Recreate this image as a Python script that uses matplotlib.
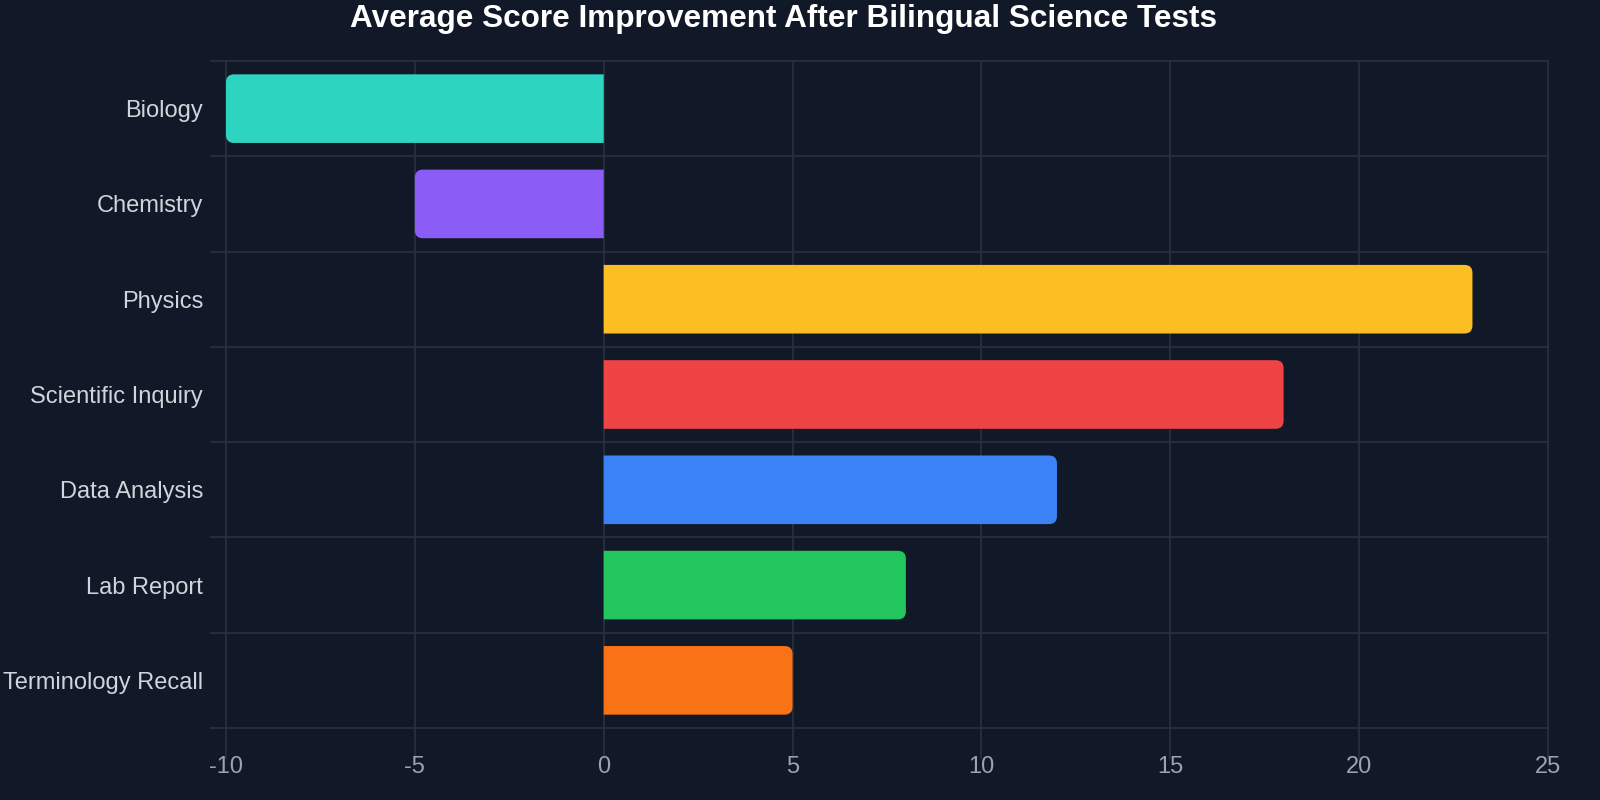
import matplotlib.pyplot as plt
from matplotlib.patches import PathPatch
from matplotlib.path import Path

plt.rcParams['font.family'] = ['Liberation Sans', 'DejaVu Sans']

# data
categories = ["Biology", "Chemistry", "Physics", "Scientific Inquiry",
              "Data Analysis", "Lab Report", "Terminology Recall"]
improvement = [-10, -5, 23, 18, 12, 8, 5]
bar_colors = ["#2dd4bf", "#8b5cf6", "#fbbf24", "#ef4444",
              "#3b82f6", "#22c55e", "#f97316"]
x_ticks = [-10, -5, 0, 5, 10, 15, 20, 25]

bg = "#111827"
grid_col = "#283040"

fig = plt.figure(figsize=(16, 8), dpi=100, facecolor=bg)
ax = fig.add_axes([226 / 1600, 72 / 800, 1322 / 1600, 667 / 800])
ax.set_facecolor(bg)

xmin, xmax = -10, 25
ax.set_xlim(xmin, xmax)
ax.set_ylim(len(categories) - 0.5, -0.5)

# pixel -> data sizes, used for the rounded bar ends
ax_w_px = 1322
ax_h_px = 667
xpp = (xmax - xmin) / ax_w_px
ypp = len(categories) / ax_h_px
r_px = 8
bar_h = 0.72


def bar_path(v, yc, h):
    # bar from 0 to v, only the outer end rounded
    s = 1 if v >= 0 else -1
    rx = r_px * xpp * s
    ry = r_px * ypp
    y0, y1 = yc - h / 2, yc + h / 2
    verts = [(0, y0), (v - rx, y0), (v, y0), (v, y0 + ry),
             (v, y1 - ry), (v, y1), (v - rx, y1), (0, y1), (0, y0)]
    codes = [Path.MOVETO, Path.LINETO, Path.CURVE3, Path.CURVE3,
             Path.LINETO, Path.CURVE3, Path.CURVE3, Path.LINETO, Path.CLOSEPOLY]
    return Path(verts, codes)


# grid lines drawn by hand so they extend into the tick area like the original
for xt in x_ticks:
    ax.axvline(xt, ymin=-30 / ax_h_px, ymax=1, color=grid_col, lw=1.3,
               clip_on=False, zorder=0)
for i in range(len(categories) + 1):
    ax.axhline(i - 0.5, xmin=-15 / ax_w_px, xmax=1, color=grid_col, lw=1.3,
               clip_on=False, zorder=0)

for i, (v, c) in enumerate(zip(improvement, bar_colors)):
    ax.add_patch(PathPatch(bar_path(v, i, bar_h), facecolor=c,
                           edgecolor="none", zorder=2))

ax.set_yticks(range(len(categories)))
ax.set_yticklabels(categories)
ax.set_xticks(x_ticks)
ax.set_xticklabels([str(t) for t in x_ticks])
ax.tick_params(axis="y", length=0, pad=16.5, labelsize=17, labelcolor="#d1d5db")
ax.tick_params(axis="x", length=0, pad=20, labelsize=17, labelcolor="#9ca3af")
for s in ax.spines.values():
    s.set_visible(False)

fig.text(783 / 1600, 1 - 19 / 800, "Average Score Improvement After Bilingual Science Tests",
         ha="center", va="center", fontsize=22.7, fontweight="bold", color="white")

fig.savefig("out.png", dpi=100, facecolor=bg)
